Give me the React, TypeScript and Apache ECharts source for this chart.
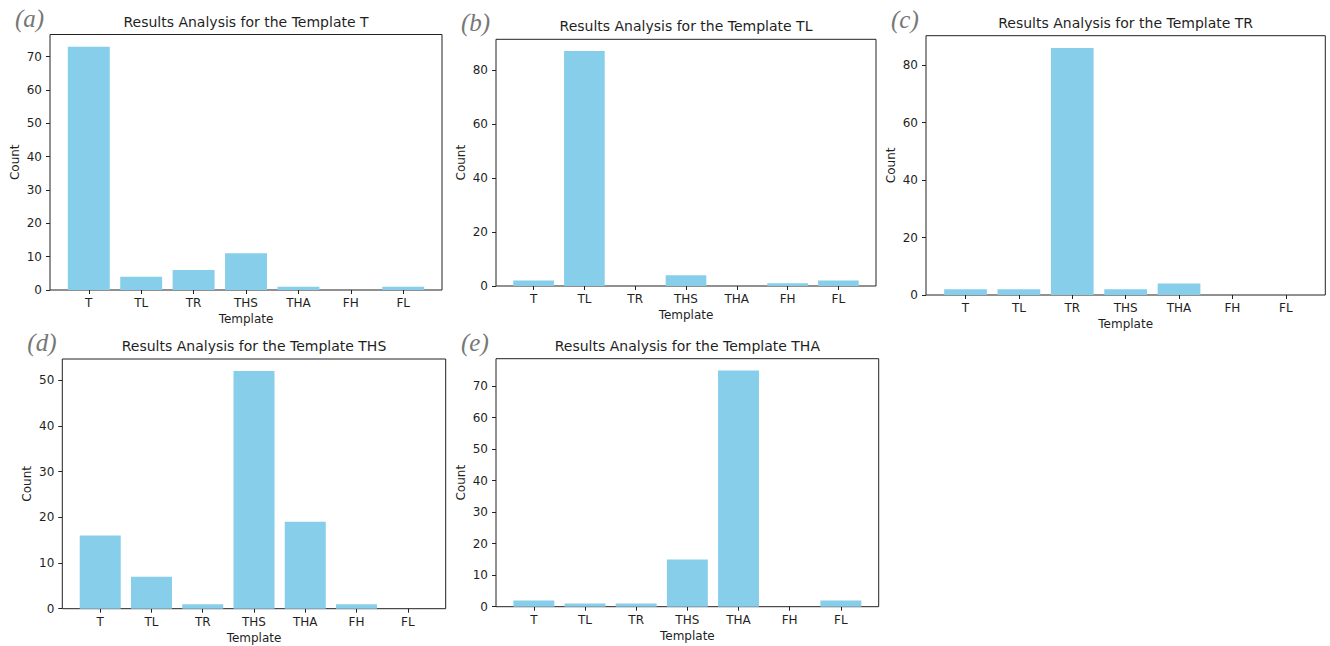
import React, { useEffect, useRef } from "react";
import * as echarts from "echarts";

const categories = ["T", "TL", "TR", "THS", "THA", "FH", "FL"];

const panelTitles = [
  "Results Analysis for the Template T",
  "Results Analysis for the Template TL",
  "Results Analysis for the Template TR",
  "Results Analysis for the Template THS",
  "Results Analysis for the Template THA",
];
const panelLetters = ["(a)", "(b)", "(c)", "(d)", "(e)"];

const valuesT = [73, 4, 6, 11, 1, 0, 1];
const valuesTL = [2, 87, 0, 4, 0, 1, 2];
const valuesTR = [2, 2, 86, 2, 4, 0, 0];
const valuesTHS = [16, 7, 1, 52, 19, 1, 0];
const valuesTHA = [2, 1, 1, 15, 75, 0, 2];

const yTicksT = [0, 10, 20, 30, 40, 50, 60, 70];
const yTicksTL = [0, 20, 40, 60, 80];
const yTicksTR = [0, 20, 40, 60, 80];
const yTicksTHS = [0, 10, 20, 30, 40, 50];
const yTicksTHA = [0, 10, 20, 30, 40, 50, 60, 70];

const allValues = [valuesT, valuesTL, valuesTR, valuesTHS, valuesTHA];
const allTicks = [yTicksT, yTicksTL, yTicksTR, yTicksTHS, yTicksTHA];

// layout of each plot frame: left, top, right, bottom (pixels)
const frames = [
  { l: 50, t: 34.5, r: 442, b: 290 },
  { l: 496, t: 39.3, r: 876, b: 286 },
  { l: 926, t: 35.7, r: 1325.3, b: 295 },
  { l: 62.3, t: 359, r: 445.7, b: 608.7 },
  { l: 496, t: 358.7, r: 878.7, b: 606.7 },
];

const W = 1330;
const H = 646;
const AXIS = "#222222";
const TEXT = "#1f1f1f";
const BAR = "#87CEEB";

export default function App() {
  const ref = useRef<HTMLDivElement>(null);
  useEffect(() => {
    if (!ref.current) return;
    const chart = echarts.init(ref.current, undefined, { renderer: "svg" });
    const n = categories.length;
    const xMin = -0.4 - 0.05 * (n - 1 + 0.8);
    const xMax = n - 1 + 0.4 + 0.05 * (n - 1 + 0.8);
    const grids: any[] = [];
    const xAxes: any[] = [];
    const yAxes: any[] = [];
    const series: any[] = [];
    const titles: any[] = [];
    frames.forEach((f, i) => {
      const vals = allValues[i];
      const maxV = Math.max(...vals) * 1.05;
      const fw = f.r - f.l;
      grids.push({
        left: f.l,
        top: f.t,
        width: fw,
        height: f.b - f.t,
        show: true,
        borderColor: AXIS,
        borderWidth: 1,
        backgroundColor: "transparent",
      });
      xAxes.push({
        type: "value",
        gridIndex: i,
        min: xMin,
        max: xMax,
        name: "Template",
        nameLocation: "middle",
        nameGap: 23,
        nameTextStyle: { fontFamily: "DejaVu Sans", fontSize: 12, color: TEXT },
        axisLine: { show: false, onZero: false },
        splitLine: { show: false },
        axisTick: {
          show: true,
          length: 4,
          lineStyle: { color: AXIS, width: 1 },
          customValues: categories.map((_, k) => k),
        },
        axisLabel: {
          margin: 7,
          fontFamily: "DejaVu Sans",
          fontSize: 12,
          color: TEXT,
          customValues: categories.map((_, k) => k),
          formatter: (v: number) => categories[Math.round(v)] ?? "",
        },
      });
      yAxes.push({
        type: "value",
        gridIndex: i,
        min: 0,
        max: maxV,
        name: "Count",
        nameLocation: "middle",
        nameGap: 29,
        nameTextStyle: { fontFamily: "DejaVu Sans", fontSize: 12, color: TEXT },
        axisLine: { show: false, onZero: false },
        splitLine: { show: false },
        axisTick: {
          show: true,
          length: 4,
          lineStyle: { color: AXIS, width: 1 },
          customValues: allTicks[i],
        },
        axisLabel: {
          margin: 8,
          fontFamily: "DejaVu Sans",
          fontSize: 12,
          color: TEXT,
          customValues: allTicks[i],
        },
      });
      series.push({
        type: "bar",
        xAxisIndex: i,
        yAxisIndex: i,
        data: vals.map((v, k) => [k, v]),
        barWidth: (0.8 * fw) / (xMax - xMin),
        itemStyle: { color: BAR },
      });
      titles.push({
        text: panelTitles[i],
        left: (f.l + f.r) / 2,
        top: f.t - 20,
        textAlign: "center",
        padding: 0,
        textStyle: {
          fontFamily: "DejaVu Sans",
          fontSize: 14,
          fontWeight: "normal",
          color: TEXT,
        },
      });
      titles.push({
        text: panelLetters[i],
        left: f.l - 35,
        top: f.t - 29,
        padding: 0,
        textStyle: {
          fontFamily: "Liberation Serif",
          fontStyle: "italic",
          fontSize: 25,
          fontWeight: "normal",
          color: "#777777",
        },
      });
    });
    chart.setOption({
      animation: false,
      backgroundColor: "#ffffff",
      title: titles,
      grid: grids,
      xAxis: xAxes,
      yAxis: yAxes,
      series,
    });
    return () => chart.dispose();
  }, []);
  return (
    <div
      ref={ref}
      style={{ position: "fixed", left: 0, top: 0, width: W, height: H }}
    />
  );
}
